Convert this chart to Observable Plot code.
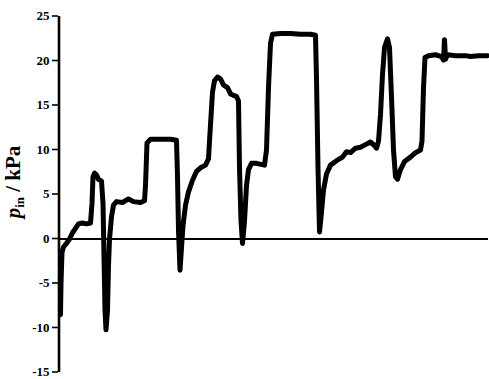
<!DOCTYPE html>
<html>
<head>
<meta charset="utf-8">
<script src="https://cdn.jsdelivr.net/npm/d3@7"></script>
<script src="https://cdn.jsdelivr.net/npm/@observablehq/plot@0.6"></script>
<style>
  html, body { margin: 0; padding: 0; background: #fff; }
  #chart svg text { font-weight: bold !important; }
</style>
</head>
<body>
<div id="chart"></div>
<script>
// time position (arbitrary units) and inlet pressure p_in (kPa)
const time = [60, 60.5, 61.5, 63, 66, 69, 72, 75, 78, 82, 86, 90, 91.5, 92.5, 94, 96, 98, 101, 102.5, 103.5, 104.5, 105.5, 107, 108, 109, 111, 113, 116, 122, 128, 133, 140, 144, 145, 146.5, 150, 160, 170, 176, 177, 178, 179.5, 181, 182.5, 185, 188, 192, 196, 200, 205, 208, 209, 212, 214, 217, 220, 223, 227, 230, 236, 238, 239, 240.5, 242, 244, 246, 248, 251, 256, 264, 266, 268, 270, 272, 280, 290, 300, 310, 315, 316, 317.5, 319, 321, 323, 326, 330, 336, 342, 346, 350, 355, 360, 365, 370, 374, 376, 378, 380, 382, 384, 387, 389, 391, 393, 395, 397, 400, 404, 410, 415, 420, 421.5, 423, 424.5, 428, 435, 441, 443, 444, 445, 447, 455, 465, 470, 478, 487];
const pressure = [-8.5, -5, -1.5, -0.9, -0.5, 0, 0.7, 1.2, 1.7, 1.8, 1.7, 1.8, 4, 7, 7.4, 7.2, 6.7, 6.5, 4, -2, -8, -10.2, -8, -3, 0, 2.5, 3.8, 4.2, 4.1, 4.5, 4.2, 4.1, 4.3, 6, 10.8, 11.2, 11.2, 11.2, 11.1, 7, 1, -3.5, -1, 1.5, 3.8, 5.3, 6.6, 7.6, 8, 8.3, 9, 11, 16.5, 17.8, 18.2, 18, 17.3, 17, 16.3, 16, 15.5, 8, 2, -0.5, 2, 6, 7.8, 8.5, 8.5, 8.3, 10, 17, 22, 23, 23.1, 23.1, 23, 23, 22.9, 18, 8, 0.8, 3, 5.5, 7.3, 8.3, 8.8, 9.2, 9.8, 9.7, 10.2, 10.3, 10.6, 10.9, 10.5, 10.2, 11, 14, 18.5, 21.5, 22.5, 21.5, 16, 10, 7, 6.7, 7.8, 8.7, 9.2, 9.7, 10, 11, 17, 20.4, 20.6, 20.7, 20.5, 20.1, 22.4, 20.2, 20.7, 20.6, 20.6, 20.5, 20.6, 20.6];
const yTicks = [-15, -10, -5, 0, 5, 10, 15, 20, 25];
const yDomain = [-15, 25];
const xDomain = [58, 489];

const data = time.map((t, i) => ({t, p: pressure[i]}));

const plot = Plot.plot({
  width: 489,
  height: 379,
  marginLeft: 58,
  marginRight: 0,
  marginTop: 16,
  marginBottom: 7,
  style: {fontFamily: "'Liberation Serif', 'Times New Roman', serif", fontSize: "13px", fontWeight: "bold", color: "#000", background: "#fff"},
  x: {domain: xDomain, axis: null},
  y: {domain: yDomain},
  marks: [
    Plot.axisY({ticks: yTicks, tickFormat: d => String(d), tickSize: 6, tickPadding: 3, strokeWidth: 1.6, label: null, fontWeight: "bold", dy: -0.5}),
    Plot.ruleX([xDomain[0]], {y1: yDomain[0], y2: yDomain[1], stroke: "#000", strokeWidth: 2.6, dx: 0.5}),
    Plot.ruleY([0], {x1: xDomain[0], x2: 488, stroke: "#000", strokeWidth: 2.2}),
    Plot.line(data, {x: "t", y: "p", stroke: "#000", strokeWidth: 5, strokeLinejoin: "round", strokeLinecap: "round", curve: "linear"})
  ]
});

const svg = d3.select(plot);
const label = svg.append("text")
  .attr("transform", "translate(20,182) rotate(-90)")
  .attr("text-anchor", "middle")
  .attr("fill", "#000")
  .style("font-family", "'Liberation Serif', 'Times New Roman', serif")
  .style("font-size", "21px")
  .style("font-weight", "bold");
label.append("tspan").style("font-style", "italic").text("p");
label.append("tspan").attr("dy", 4).style("font-size", "13px").text("in");
label.append("tspan").attr("dy", -4).text(" / kPa");

document.getElementById("chart").appendChild(plot);
</script>
</body>
</html>
